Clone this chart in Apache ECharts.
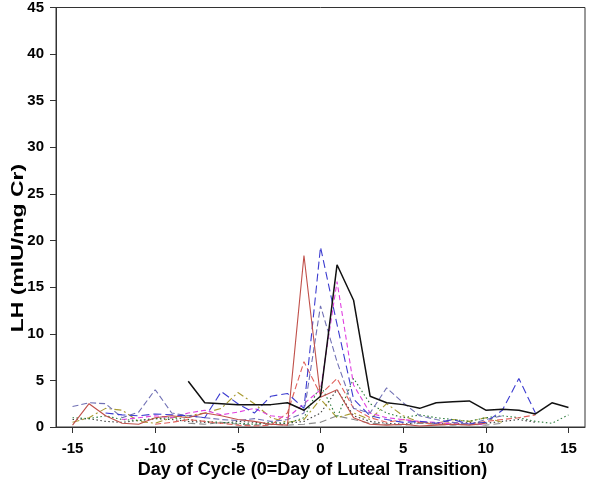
<!DOCTYPE html>
<html>
<head>
<meta charset="utf-8">
<script src="https://cdn.jsdelivr.net/npm/echarts@6/dist/echarts.min.js"></script>
<style>
html,body{margin:0;padding:0;background:#fff;}
#chart{width:600px;height:498px;}
</style>
</head>
<body>
<div id="chart"></div>
<script>
// Days of cycle (-15 .. 15)
var days = [-15,-14,-13,-12,-11,-10,-9,-8,-7,-6,-5,-4,-3,-2,-1,0,1,2,3,4,5,6,7,8,9,10,11,12,13,14,15];
var xTicks = [-15,-10,-5,0,5,10,15];

// LH values per subject cycle (null = no sample)
var cycleA = [null,null,null,null,null,null,null,4.9,2.6,2.5,2.4,2.4,2.4,2.6,1.8,3.3,17.4,13.6,3.3,2.6,2.4,2.0,2.6,2.7,2.8,1.8,1.9,1.8,1.4,2.6,2.1];
var cycleB = [0.2,2.5,1.2,0.4,0.3,1.0,1.2,1.0,1.5,1.2,0.8,0.6,0.3,0.2,18.4,3.2,4.0,1.0,0.3,0.2,0.3,0.1,0.2,0.3,0.2,0.4,null,null,null,null,null];
var cycleC = [null,null,1.5,1.3,1.2,1.4,1.3,1.2,1.0,3.8,2.5,1.5,3.3,3.6,2.0,19.3,11.0,3.0,1.2,0.8,0.5,0.6,0.4,0.8,0.3,0.5,1.8,5.2,1.5,null,null];
var cycleD = [2.2,2.6,2.5,1.0,1.6,4.0,1.5,1.2,1.0,0.8,0.7,0.9,0.6,0.8,1.5,13.0,7.0,2.0,1.5,4.2,2.6,1.2,0.8,0.5,0.3,0.8,1.2,null,null,null,null];
var cycleE = [null,null,null,0.8,1.0,1.2,1.0,1.5,1.8,1.3,1.6,2.0,1.2,1.0,2.5,4.0,15.6,4.5,1.5,1.0,0.8,0.6,0.5,0.3,0.4,0.2,null,null,null,null,null];
var cycleF = [null,null,null,null,null,0.3,0.5,0.8,0.6,0.4,0.2,0.1,0.2,1.5,7.0,3.5,5.2,2.0,1.0,0.5,0.8,0.5,0.3,0.5,0.3,0.6,0.8,1.0,1.3,null,null];
var cycleG = [1.0,0.9,1.2,0.8,0.7,0.9,1.0,0.8,0.6,0.5,0.4,0.3,0.5,0.4,1.0,4.5,1.0,5.2,2.5,1.5,1.0,1.3,1.0,0.8,0.6,1.0,1.2,1.0,0.6,0.4,1.3];
var cycleH = [0.5,1.0,2.0,1.8,0.6,0.4,1.0,1.2,1.5,2.0,3.7,2.5,1.0,0.5,0.8,3.0,1.0,1.5,0.8,2.5,1.2,0.5,0.4,0.8,0.6,1.0,0.5,null,null,null,null];
var cycleI = [0.8,0.9,0.6,0.5,0.7,0.9,0.8,0.6,0.5,0.4,0.6,0.5,0.3,0.4,0.6,1.5,4.0,1.2,0.6,0.4,0.3,0.5,0.4,0.3,0.5,0.4,0.6,0.8,0.5,null,null];
var cycleJ = [null,null,null,null,null,null,null,0.4,0.3,0.5,0.3,0.2,0.3,0.2,0.3,0.5,1.2,0.8,0.4,0.3,0.2,0.4,0.3,0.2,0.3,0.2,0.4,null,null,null,null];

function pairs(vals){
  var out = [];
  for (var i = 0; i < days.length; i++) out.push([days[i], vals[i]]);
  return out;
}
function mk(vals, color, dash, width){
  return {
    type: 'line',
    data: pairs(vals),
    showSymbol: false,
    symbol: 'none',
    connectNulls: false,
    lineStyle: {color: color, width: width || 1.1, type: dash},
    emphasis: {disabled: true},
    animation: false
  };
}

var chart = echarts.init(document.getElementById('chart'), null, {renderer: 'canvas'});
chart.setOption({
  backgroundColor: '#ffffff',
  animation: false,
  grid: {left: 56, right: 15, top: 7, bottom: 71, show: true, borderColor: '#333', borderWidth: 1, backgroundColor: 'transparent'},
  xAxis: {
    type: 'value', min: -16, max: 16,
    name: 'Day of Cycle (0=Day of Luteal Transition)',
    nameLocation: 'middle', nameGap: 34,
    nameTextStyle: {fontFamily: 'Liberation Sans', fontWeight: 'bold', fontSize: 18, color: '#000', padding: [0, 16, 0, 0]},
    axisLine: {show: true, onZero: false, lineStyle: {color: '#333', width: 1}},
    axisTick: {show: true, inside: false, length: 6, customValues: xTicks, lineStyle: {color: '#333'}},
    axisLabel: {customValues: xTicks, fontFamily: 'Liberation Sans', fontWeight: 'bold', fontSize: 15, color: '#000', margin: 14},
    splitLine: {show: false}
  },
  yAxis: {
    type: 'value', min: 0, max: 45, interval: 5,
    axisLine: {show: true, onZero: false, lineStyle: {color: '#333', width: 1}},
    axisTick: {show: true, inside: false, length: 6, lineStyle: {color: '#333'}},
    axisLabel: {fontFamily: 'Liberation Sans', fontWeight: 'bold', fontSize: 15, color: '#000', margin: 12},
    splitLine: {show: false}
  },
  graphic: [{
    type: 'text',
    x: 18, y: 248,
    rotation: Math.PI / 2,
    scaleX: 1.35,
    style: {
      text: 'LH (mIU/mg Cr)',
      font: 'bold 17px "Liberation Sans"',
      fill: '#000',
      textAlign: 'center', textVerticalAlign: 'middle',
      align: 'center', verticalAlign: 'middle'
    }
  }],
  series: [
    mk(cycleJ, '#8a8a8a', [7,4]),
    mk(cycleI, '#404040', [1.5,2.5]),
    mk(cycleH, '#a89a30', [7,3,2,3]),
    mk(cycleG, '#2a7a3a', [1.5,2.5]),
    mk(cycleF, '#e0605a', [6,3]),
    mk(cycleE, '#e040e0', [5,3]),
    mk(cycleD, '#7070b4', [6,3]),
    mk(cycleC, '#3c3cd0', [8,4]),
    mk(cycleB, '#c0504a', 'solid'),
    mk(cycleA, '#111111', 'solid', 1.5)
  ]
});
</script>
</body>
</html>
